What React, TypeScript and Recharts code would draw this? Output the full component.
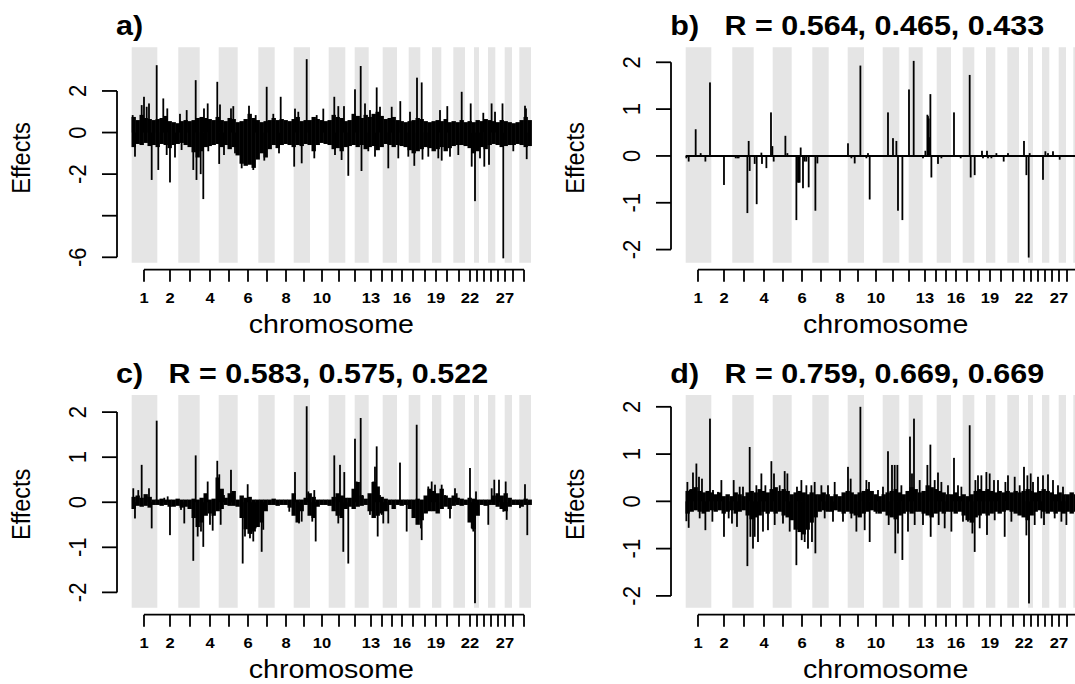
import { ComposedChart, Bar, XAxis, YAxis, ReferenceArea, ReferenceLine } from "recharts";

const FONT = '"Liberation Sans", Arial, Helvetica, sans-serif';

// SNPs per chromosome, BTA 1..29
const CHR_SIZES = [
  2560, 2100, 2140, 1900, 1900, 2060, 1640, 1900, 1630, 1870, 1660, 940, 1400, 1400, 1430,
  1170, 1160, 1170, 930, 1200, 1170, 900, 500, 900, 730, 940, 730, 730, 1170,
];
// x-axis tick positions (SNP index) for chromosomes 1..29
const CHR_TICKS = [
  1230, 3830, 5830, 7830, 9730, 11630, 13530, 15430, 17230, 19030, 20730, 22330, 23930, 25030,
  26030, 27030, 28130, 29330, 30430, 31530, 32730, 33830, 34530, 35230, 35930, 36630, 37330,
  38130, 39230,
];
const CHR_TICK_LABELS = [1, 2, 4, 6, 8, 10, 13, 16, 19, 22, 27];

const BIN = 400; // SNPs per envelope bin

// a) dense effects: envelope per bin + prominent spikes [snp, effect]
const A_HI = [
  0.75, 0.6, 0.85, 0.7, 0.65, 0.6, 0.65, 0.7, 0.8, 0.55, 0.5, 0.45, 0.55, 0.6, 0.55, 0.6, 0.7, 0.75,
  0.7, 0.65, 0.6, 0.75, 0.6, 0.55, 0.7, 0.65, 0.5, 0.55, 0.65, 0.9, 0.7, 0.6, 0.5, 0.55, 0.6, 0.7,
  0.6, 0.65, 0.6, 0.55, 0.65, 0.75, 0.55, 0.6, 0.6, 0.75, 0.65, 0.6, 0.55, 0.6, 0.85, 0.75, 0.7,
  0.55, 0.6, 0.9, 0.8, 0.7, 0.85, 0.75, 0.9, 1.0, 0.8, 0.65, 0.7, 0.75, 0.6, 0.55, 0.5, 0.55, 0.6,
  0.7, 0.65, 0.55, 0.5, 0.55, 0.6, 0.55, 0.65, 0.5, 0.55, 0.5, 0.6, 0.5, 0.55, 0.5, 0.6, 0.55,
  0.65, 0.6, 0.55, 0.5, 0.6, 0.55, 0.5, 0.45, 0.5, 0.6, 0.75, 0.6,
];
const A_LO = [
  -0.7, -0.55, -0.6, -0.5, -0.65, -0.6, -0.7, -0.55, -0.6, -0.75, -0.6, -0.55, -0.5, -0.6, -0.7,
  -0.95, -1.2, -0.9, -0.7, -0.65, -0.6, -0.55, -0.7, -0.6, -0.8, -0.7, -1.1, -1.5, -1.6, -1.55,
  -1.7, -1.3, -1.0, -1.2, -0.8, -0.6, -0.75, -0.6, -0.55, -0.6, -0.7, -0.6, -0.65, -0.55, -0.6,
  -0.9, -0.6, -0.5, -0.55, -0.6, -0.8, -0.75, -0.9, -0.7, -0.65, -0.6, -0.7, -0.6, -0.8, -0.7,
  -0.65, -0.85, -0.7, -0.55, -0.6, -0.7, -0.6, -0.65, -0.7, -0.85, -1.0, -0.9, -0.8, -0.7, -0.75,
  -0.9, -0.8, -0.7, -0.9, -0.75, -0.65, -0.6, -0.6, -0.65, -0.75, -1.0, -0.9, -0.7, -0.8, -0.6,
  -0.55, -0.6, -0.7, -0.65, -0.6, -0.6, -0.55, -0.6, -0.7, -0.65,
];
const A_SPIKES = [
  [100, 0.84], [1000, 1.32], [1230, 1.72], [1500, 1.24], [1730, 1.4], [2500, 3.24], [3160, 1.64],
  [3560, 1.16], [4830, 0.9], [5500, 1.08], [6400, 2.52], [7230, 1.16], [7600, 1.4], [8560, 2.44],
  [8830, 1.35], [9930, 1.16], [10160, 1.27], [11730, 1.29], [12400, 0.84], [13500, 2.2],
  [14160, 0.9], [14900, 1.72], [16330, 1.15], [16660, 1.0], [17500, 3.53], [18500, 0.84],
  [19160, 1.15], [20260, 1.72], [20660, 1.27], [21230, 1.27], [22330, 2.08], [22900, 3.2],
  [23330, 1.4], [23830, 1.08], [24500, 2.17], [24830, 1.24], [26000, 1.24], [26860, 1.51],
  [27830, 1.0], [28530, 2.64], [29000, 2.41], [30830, 1.08], [31560, 1.27], [33000, 1.96],
  [33900, 1.4], [35160, 0.95], [35990, 1.4], [36330, 1.0], [37080, 1.4], [39330, 1.29],
  [39430, 1.16],
  [330, -1.16], [2000, -2.28], [2660, -1.8], [3500, -1.08], [3830, -2.4], [4330, -1.2],
  [4990, -0.84], [6160, -1.8], [6480, -2.28], [6900, -2.0], [7160, -3.2], [7660, -0.9],
  [8750, -1.51], [9230, -1.08], [10330, -1.0], [11000, -1.72], [12160, -1.8], [13260, -1.35],
  [14730, -1.0], [16250, -1.64], [17000, -1.48], [18260, -1.24], [20330, -1.08], [20990, -1.32],
  [21660, -2.08], [22980, -1.85], [23660, -0.9], [24330, -1.16], [25660, -1.72], [26660, -1.24],
  [27660, -1.16], [28260, -1.6], [29080, -1.3], [29660, -1.16], [30660, -1.24], [31000, -1.35],
  [31830, -1.16], [32660, -1.08], [34000, -1.64], [34330, -3.3], [34830, -1.24], [35260, -1.64],
  [35730, -1.55], [37160, -6.05], [38160, -0.9], [39500, -1.28],
];

// b) sparse effects
const B_SPIKES = [
  [70, -0.05], [300, -0.12], [1000, 0.57], [1500, 0.06], [1970, -0.12], [2430, 1.57], [3830, -0.62],
  [5000, -0.05], [5170, -0.05], [5300, -0.05], [6170, -1.22], [6300, 0.32], [6400, -0.32],
  [6900, -0.17], [7100, -1.03], [7570, 0.07], [7630, -0.17], [8070, -0.26], [8530, 0.93],
  [8670, 0.21], [8800, -0.12], [9970, 0.43], [10170, 0.06], [11070, -1.37], [11230, -0.57],
  [11300, -0.57], [11400, -0.57], [11500, 0.18], [11730, -0.69], [11900, -0.12], [12070, -0.12],
  [12300, -0.67], [12970, -1.17], [13170, -0.16], [16230, 0.27], [16570, -0.05], [16900, -0.16],
  [17470, 1.93], [18070, -0.05], [18230, 0.06], [18400, -0.93], [20230, 0.93], [20730, 0.38],
  [21070, 0.32], [21230, -1.17], [21670, -1.37], [22330, 1.42], [22800, 2.03], [23730, -0.05],
  [23970, 0.11], [24170, 0.88], [24230, 0.85], [24300, 0.8], [24330, 0.4], [24470, 1.32],
  [24570, -0.46], [25230, -0.17], [25570, -0.05], [26830, 0.93], [27500, -0.05], [28400, 1.73],
  [28500, -0.46], [28900, -0.41], [29630, 0.11], [29730, -0.05], [30130, 0.11], [30230, -0.05],
  [30570, -0.05], [31070, 0.06], [31800, -0.12], [32230, 0.06], [33830, 0.32], [34070, -0.41],
  [34300, -2.17], [34400, 0.06], [35730, -0.51], [35970, 0.1], [36230, 0.06], [36730, 0.1],
  [37400, -0.08],
];

// c) moderately sparse effects
const C_HI = [
  0.12, 0.15, 0.1, 0.18, 0.12, 0.06, 0.06, 0.08, 0.06, 0.06, 0.06, 0.08, 0.06, 0.06, 0.06, 0.08,
  0.06, 0.1, 0.2, 0.06, 0.08, 0.55, 0.3, 0.1, 0.2, 0.25, 0.06, 0.15, 0.1, 0.12, 0.06, 0.06, 0.06,
  0.06, 0.06, 0.08, 0.06, 0.06, 0.06, 0.06, 0.2, 0.06, 0.06, 0.1, 0.2, 0.12, 0.06, 0.06, 0.06, 0.06,
  0.12, 0.2, 0.15, 0.1, 0.1, 0.3, 0.45, 0.15, 0.08, 0.2, 0.45, 0.35, 0.12, 0.08, 0.06, 0.06, 0.06,
  0.06, 0.06, 0.06, 0.06, 0.08, 0.06, 0.15, 0.3, 0.25, 0.2, 0.3, 0.15, 0.1, 0.15, 0.1, 0.08, 0.06,
  0.1, 0.08, 0.06, 0.06, 0.06, 0.06, 0.15, 0.2, 0.15, 0.2, 0.1, 0.06, 0.06, 0.06, 0.08, 0.06,
];
const C_LO = [
  -0.15, -0.08, -0.1, -0.08, -0.12, -0.06, -0.06, -0.08, -0.06, -0.1, -0.1, -0.08, -0.12, -0.1,
  -0.15, -0.35, -0.55, -0.45, -0.3, -0.25, -0.3, -0.2, -0.15, -0.06, -0.08, -0.08, -0.1, -0.35,
  -0.6, -0.7, -0.65, -0.55, -0.45, -0.2, -0.06, -0.06, -0.08, -0.06, -0.06, -0.12, -0.3, -0.45,
  -0.2, -0.06, -0.3, -0.35, -0.1, -0.06, -0.06, -0.08, -0.2, -0.3, -0.35, -0.15, -0.1, -0.15,
  -0.1, -0.08, -0.06, -0.2, -0.35, -0.3, -0.25, -0.2, -0.06, -0.15, -0.06, -0.08, -0.06, -0.15,
  -0.35, -0.5, -0.4, -0.25, -0.2, -0.2, -0.25, -0.15, -0.1, -0.15, -0.08, -0.06, -0.08, -0.06,
  -0.45, -0.6, -0.3, -0.06, -0.08, -0.06, -0.06, -0.1, -0.15, -0.2, -0.1, -0.06, -0.06, -0.1,
  -0.06, -0.06,
];
const C_SPIKES = [
  [160, 0.31], [330, -0.36], [660, 0.27], [1000, 0.83], [1500, 0.13], [1730, 0.31], [2000, -0.58],
  [2500, 1.81], [3260, 0.1], [3600, 0.13], [3830, -0.73], [4930, -0.17], [5260, -0.47],
  [6160, -1.3], [6400, 1.04], [6600, -0.76], [6930, -0.65], [7160, -0.99], [7330, -0.21],
  [7600, 0.46], [7830, -0.5], [8100, -0.63], [8560, 0.92], [8760, 0.62], [8900, -0.5], [9230, 0.16],
  [9930, 0.72], [10060, 0.2], [11100, -1.36], [11330, -0.76], [11600, 0.4], [11830, -0.8],
  [12000, -0.7], [12160, -0.87], [12400, -0.58], [12660, -0.43], [13000, -1.1], [13160, -0.61],
  [15760, -0.21], [16330, 0.67], [16730, -0.47], [17000, -0.43], [17500, 2.13], [17660, 0.24],
  [18060, -0.43], [18260, 0.27], [18400, -0.87], [20260, 1.04], [20660, -0.47], [20830, 0.83],
  [21160, -1.1], [21260, 0.67], [21660, -1.36], [22330, 1.41], [22500, 0.46], [22900, 1.87],
  [23060, 0.16], [23830, -0.28], [24160, 0.46], [24330, 0.79], [24500, 1.24], [24600, -0.76],
  [24830, 0.16], [25000, -0.28], [25160, -0.47], [25660, -0.47], [26830, 0.88], [27500, -0.65],
  [28500, 1.72], [28660, -0.32], [28930, -0.58], [29000, -0.84], [29500, -0.21], [29660, 0.35],
  [30000, 0.46], [30330, 0.39], [30660, -0.21], [31000, 0.39], [31330, 0.16], [31830, -0.36],
  [32330, 0.31], [32500, 0.2], [33830, 0.76], [34000, -0.58], [34160, -0.65], [34330, -2.24],
  [34430, 0.24], [35660, -0.5], [36000, 0.31], [36260, 0.5], [36730, 0.5], [37160, -0.21],
  [37400, 0.46], [37500, -0.39], [38830, -0.13], [39330, 0.4], [39560, -0.73],
];

// d) dense effects
const D_HI = [
  0.22, 0.26, 0.3, 0.22, 0.19, 0.22, 0.19, 0.15, 0.19, 0.11, 0.15, 0.11, 0.19, 0.15, 0.11, 0.19,
  0.22, 0.19, 0.26, 0.22, 0.19, 0.26, 0.3, 0.22, 0.26, 0.22, 0.15, 0.19, 0.22, 0.19, 0.15, 0.19,
  0.15, 0.15, 0.19, 0.15, 0.11, 0.15, 0.11, 0.19, 0.22, 0.19, 0.15, 0.19, 0.22, 0.26, 0.22, 0.15,
  0.11, 0.15, 0.19, 0.22, 0.26, 0.19, 0.15, 0.22, 0.3, 0.26, 0.19, 0.22, 0.34, 0.3, 0.26, 0.22,
  0.19, 0.15, 0.15, 0.19, 0.11, 0.15, 0.11, 0.15, 0.22, 0.26, 0.22, 0.26, 0.22, 0.19, 0.22, 0.19,
  0.22, 0.19, 0.22, 0.19, 0.22, 0.26, 0.22, 0.19, 0.22, 0.26, 0.22, 0.19, 0.15, 0.19, 0.15, 0.15,
  0.19, 0.15, 0.22, 0.19,
];
const D_LO = [
  -0.26, -0.22, -0.19, -0.22, -0.26, -0.22, -0.19, -0.22, -0.19, -0.26, -0.22, -0.19, -0.26,
  -0.22, -0.19, -0.3, -0.38, -0.34, -0.3, -0.22, -0.26, -0.22, -0.26, -0.22, -0.3, -0.34, -0.4,
  -0.6, -0.65, -0.7, -0.6, -0.45, -0.34, -0.22, -0.19, -0.22, -0.22, -0.19, -0.22, -0.26, -0.22,
  -0.26, -0.3, -0.34, -0.26, -0.22, -0.19, -0.22, -0.26, -0.22, -0.3, -0.34, -0.38, -0.3, -0.26,
  -0.22, -0.26, -0.22, -0.22, -0.26, -0.3, -0.34, -0.26, -0.22, -0.26, -0.22, -0.22, -0.26, -0.22,
  -0.3, -0.4, -0.45, -0.34, -0.3, -0.26, -0.3, -0.26, -0.22, -0.26, -0.22, -0.19, -0.22, -0.26,
  -0.3, -0.34, -0.4, -0.3, -0.22, -0.19, -0.22, -0.26, -0.22, -0.26, -0.22, -0.26, -0.22, -0.26,
  -0.22, -0.26, -0.22,
];
const D_SPIKES = [
  [170, 0.41], [400, 0.24], [730, 0.61], [1070, 0.8], [1330, 0.52], [1630, 0.48], [2430, 1.75],
  [2730, 0.24], [3230, 0.2], [3570, 0.45], [4800, 0.45], [5400, 0.31], [5730, 0.31], [6400, 1.15],
  [7070, 0.34], [7570, 0.59], [7970, 0.34], [8570, 0.85], [8830, 0.59], [9400, 0.34], [9900, 0.64],
  [10170, 0.59], [11130, 0.31], [11570, 0.45], [12070, 0.34], [12570, 0.34], [12900, 0.41],
  [13570, 0.34], [14230, 0.34], [14900, 0.41], [16230, 0.73], [16500, 0.48], [17470, 2.0],
  [18070, 0.45], [18330, 0.41], [19230, 0.24], [19730, 0.31], [20230, 1.06], [20630, 0.77],
  [20900, 0.77], [21170, 0.77], [21570, 0.34], [22430, 1.37], [22630, 0.59], [22830, 1.75],
  [23400, 0.45], [24170, 0.77], [24470, 1.2], [24900, 0.45], [25230, 0.61], [25570, 0.41],
  [26230, 0.34], [26830, 0.92], [27230, 0.34], [27570, 0.31], [28400, 1.61], [28970, 0.45],
  [29230, 0.55], [29570, 0.55], [30070, 0.62], [30400, 0.59], [30830, 0.45], [31230, 0.45],
  [31970, 0.41], [32230, 0.55], [32900, 0.52], [33400, 0.34], [33830, 0.73], [34170, 0.55],
  [34500, 0.59], [34730, 0.41], [35230, 0.52], [35730, 0.55], [36230, 0.57], [36730, 0.45],
  [37230, 0.34], [37730, 0.31],
  [70, -0.42], [300, -0.56], [1400, -0.36], [1970, -0.61], [2670, -0.43], [3830, -0.75],
  [4300, -0.36], [4630, -0.47], [5130, -0.54], [6170, -1.37], [6470, -0.75], [6730, -1.0],
  [6900, -0.75], [7230, -0.86], [7730, -0.64], [8230, -0.61], [8900, -0.5], [9730, -0.47],
  [10400, -0.64], [11070, -1.35], [11600, -0.82], [11900, -0.86], [12230, -1.0], [12630, -0.86],
  [12970, -1.1], [13900, -0.36], [14730, -0.43], [15730, -0.43], [16570, -0.36], [17070, -0.64],
  [17900, -0.61], [18400, -0.86], [19070, -0.26], [20300, -0.5], [20960, -1.1], [21230, -0.68],
  [21670, -1.24], [22230, -0.64], [22900, -0.5], [23730, -0.5], [24500, -0.75], [25300, -0.5],
  [25900, -0.57], [26570, -0.64], [27730, -0.43], [28230, -0.43], [28670, -0.68], [28900, -1.07],
  [29400, -0.57], [30130, -0.71], [30900, -0.4], [31900, -0.75], [32570, -0.43], [34070, -0.72],
  [34330, -2.16], [34900, -0.5], [35570, -0.36], [35830, -0.5], [36900, -0.36], [37570, -0.43],
  [38070, -0.5],
];

const TITLES = [
  "a)",
  "b)   R = 0.564, 0.465, 0.433",
  "c)   R = 0.583, 0.575, 0.522",
  "d)   R = 0.759, 0.669, 0.669",
];

// layout
const CHART_W = 560;
const CHART_H = 342;
const Y_AXIS_W = 117;
const PLOT_RIGHT = 14.3;
const PLOT_W = CHART_W - Y_AXIS_W - PLOT_RIGHT;
const PANEL_DX = 554.3;
const ROWS = [
  { top: 0, plotTop: 47.3, plotH: 215.4 },
  { top: 342, plotTop: 53, plotH: 212.7 },
];
const X_AXIS_GAP = 7;

const TOTAL = CHR_SIZES.reduce((s, v) => s + v, 0);
const CHR_STARTS = CHR_SIZES.map((_, i) => CHR_SIZES.slice(0, i).reduce((s, v) => s + v, 0));
const X_PAD = TOTAL * 0.0368;
const X_DOMAIN = [-X_PAD, TOTAL + X_PAD];
// width of one envelope bin on screen
const BIN_PX = (BIN * PLOT_W) / (X_DOMAIN[1] - X_DOMAIN[0]);

const PANELS = [
  { title: TITLES[0], col: 0, row: 0, hi: A_HI, lo: A_LO, spikes: A_SPIKES, yDomain: [-6.26, 4.1], yTicks: [-6, -4, -2, 0, 2], yLabels: [-6, -2, 0, 2], baseline: false },
  { title: TITLES[1], col: 1, row: 0, hi: null, lo: null, spikes: B_SPIKES, yDomain: [-2.28, 2.32], yTicks: [-2, -1, 0, 1, 2], yLabels: [-2, -1, 0, 1, 2], baseline: true },
  { title: TITLES[2], col: 0, row: 1, hi: C_HI, lo: C_LO, spikes: C_SPIKES, yDomain: [-2.34, 2.38], yTicks: [-2, -1, 0, 1, 2], yLabels: [-2, -1, 0, 1, 2], baseline: false },
  { title: TITLES[3], col: 1, row: 1, hi: D_HI, lo: D_LO, spikes: D_SPIKES, yDomain: [-2.25, 2.25], yTicks: [-2, -1, 0, 1, 2], yLabels: [-2, -1, 0, 1, 2], baseline: false },
];

function buildRows(hi: number[] | null, lo: number[] | null, spikes: number[][]) {
  const rows: { pos: number; r: number[]; kind: string }[] = [];
  if (hi && lo) {
    hi.forEach((h, k) => rows.push({ pos: k * BIN + BIN / 2, r: [lo[k], h], kind: "env" }));
  }
  spikes.forEach(([pos, v]) => rows.push({ pos, r: [Math.min(0, v), Math.max(0, v)], kind: "spike" }));
  return rows.sort((a, b) => a.pos - b.pos);
}

function Stick(props: any) {
  const { x, y, width, height, payload } = props;
  if (![x, y, width, height].every((n) => Number.isFinite(n))) return null;
  const w = payload.kind === "env" ? BIN_PX + 0.4 : 1.8;
  const top = Math.min(y, y + height);
  const h = Math.max(Math.abs(height), 1);
  return <rect x={x + width / 2 - w / 2} y={top} width={w} height={h} fill="#000" />;
}

function YTick(props: any) {
  const { x, y, payload, labels } = props;
  return (
    <g>
      <line x1={x} x2={x - 15} y1={y} y2={y} stroke="#000" strokeWidth={1.8} />
      {labels.includes(payload.value) && (
        <text
          transform={`translate(${x - 30.7},${y}) rotate(-90) scale(1,1.12)`}
          textAnchor="middle"
          fontSize={22}
          fontFamily={FONT}
          fill="#000"
        >
          {payload.value}
        </text>
      )}
    </g>
  );
}

function XTick(props: any) {
  const { x, y, payload } = props;
  const chr = CHR_TICKS.indexOf(payload.value) + 1;
  const top = y + X_AXIS_GAP;
  return (
    <g>
      <line x1={x} x2={x} y1={top} y2={top + 12} stroke="#000" strokeWidth={1.8} />
      {CHR_TICK_LABELS.includes(chr) && (
        <text
          transform={`translate(${x},${top + 33.5}) scale(1.1,1)`}
          textAnchor="middle"
          fontSize={15}
          fontWeight="bold"
          fontFamily={FONT}
          fill="#000"
        >
          {chr}
        </text>
      )}
    </g>
  );
}

function EffectPanel({ p }: { p: (typeof PANELS)[number] }) {
  const row = ROWS[p.row];
  const data = buildRows(p.hi, p.lo, p.spikes);
  const [yMin, yMax] = p.yDomain;
  const axisLevel = yMin - (X_AXIS_GAP * (yMax - yMin)) / row.plotH;

  return (
    <div style={{ position: "absolute", left: p.col * PANEL_DX, top: row.top }}>
      <ComposedChart
        width={CHART_W}
        height={CHART_H}
        data={data}
        margin={{ top: row.plotTop, right: PLOT_RIGHT, bottom: 0, left: 0 }}
      >
        {CHR_STARTS.map((s, i) =>
          i % 2 === 0 ? (
            <ReferenceArea
              key={i}
              x1={s}
              x2={s + CHR_SIZES[i]}
              fill="#e5e5e5"
              fillOpacity={1}
              stroke="none"
            />
          ) : null
        )}
        <XAxis
          dataKey="pos"
          type="number"
          domain={X_DOMAIN}
          allowDataOverflow
          ticks={CHR_TICKS}
          interval={0}
          axisLine={false}
          tickLine={false}
          tickSize={0}
          tickMargin={0}
          height={CHART_H - row.plotTop - row.plotH}
          tick={(t: any) => <XTick {...t} />}
        />
        <YAxis
          type="number"
          domain={p.yDomain}
          allowDataOverflow
          ticks={p.yTicks}
          interval={0}
          width={Y_AXIS_W}
          axisLine={false}
          tickLine={false}
          tickSize={0}
          tickMargin={0}
          tick={(t: any) => <YTick {...t} labels={p.yLabels} />}
        />
        {p.baseline && (
          <ReferenceLine
            segment={[{ x: 0, y: 0 }, { x: TOTAL, y: 0 }]}
            stroke="#000"
            strokeWidth={2}
          />
        )}
        <Bar dataKey="r" barSize={4} shape={Stick} isAnimationActive={false} />
        <ReferenceLine
          segment={[
            { x: X_DOMAIN[0], y: p.yTicks[0] },
            { x: X_DOMAIN[0], y: p.yTicks[p.yTicks.length - 1] },
          ]}
          stroke="#000"
          strokeWidth={1.8}
          ifOverflow="visible"
        />
        <ReferenceLine
          segment={[
            { x: CHR_TICKS[0], y: axisLevel },
            { x: CHR_TICKS[CHR_TICKS.length - 1], y: axisLevel },
          ]}
          stroke="#000"
          strokeWidth={1.8}
          ifOverflow="visible"
        />
      </ComposedChart>
    </div>
  );
}

export default function App() {
  return (
    <div
      style={{
        position: "absolute",
        left: 0,
        top: 0,
        width: 1075,
        height: 684,
        overflow: "hidden",
        background: "#fff",
        fontFamily: FONT,
      }}
    >
      {PANELS.map((p, i) => (
        <EffectPanel key={i} p={p} />
      ))}
      <svg width={1075} height={684} style={{ position: "absolute", left: 0, top: 0, pointerEvents: "none" }}>
        {PANELS.map((p, i) => {
          const row = ROWS[p.row];
          const left = p.col * PANEL_DX;
          const plotTop = row.top + row.plotTop;
          const plotBottom = plotTop + row.plotH;
          const plotLeft = left + Y_AXIS_W;
          return (
            <g key={i} fontFamily={FONT} fill="#000">
              <text
                transform={`translate(${plotLeft - 1},${plotTop - 12.3}) scale(1.13,1)`}
                fontSize={27}
                fontWeight="bold"
                style={{ whiteSpace: "pre" }}
              >
                {p.title}
              </text>
              <text
                transform={`translate(${left + 30},${(plotTop + plotBottom) / 2 + 3}) rotate(-90) scale(1,1.12)`}
                textAnchor="middle"
                fontSize={23.5}
              >
                Effects
              </text>
              <text
                transform={`translate(${plotLeft + PLOT_W / 2},${plotBottom + 70.5}) scale(1.1,1)`}
                textAnchor="middle"
                fontSize={26}
              >
                chromosome
              </text>
            </g>
          );
        })}
      </svg>
    </div>
  );
}
